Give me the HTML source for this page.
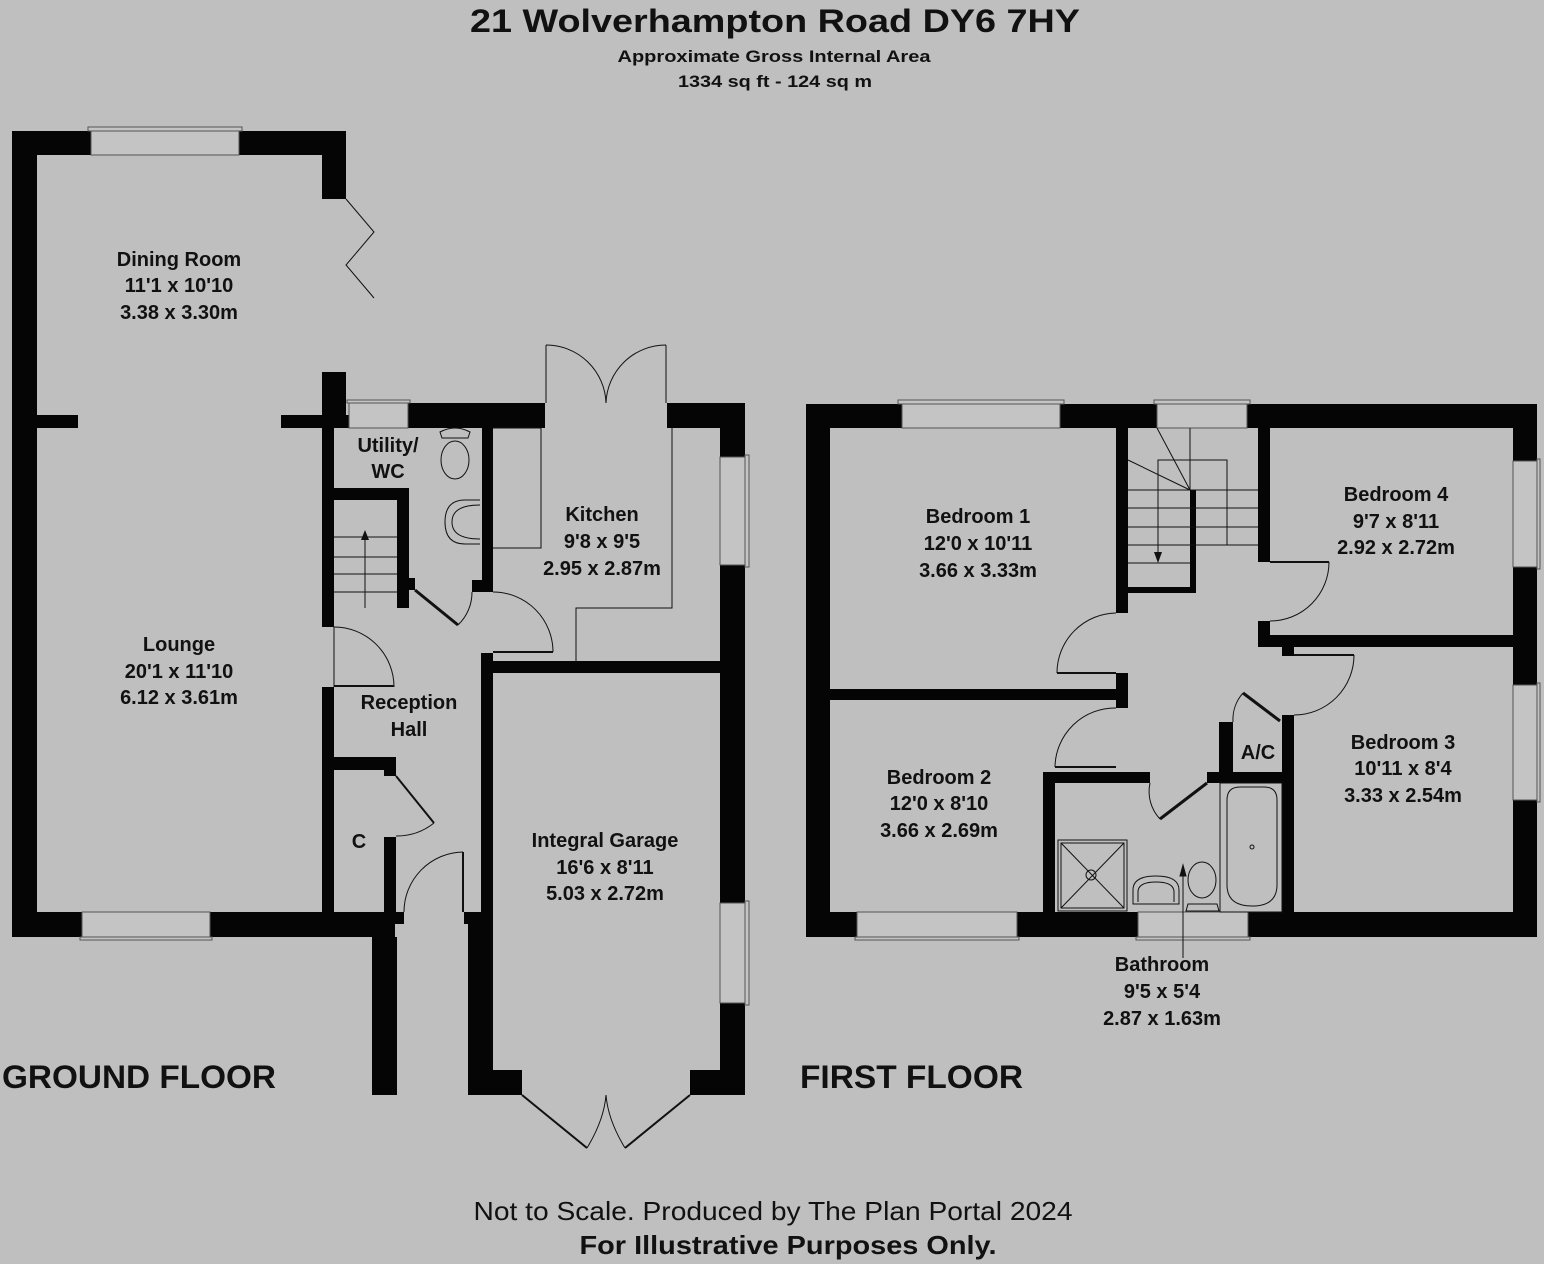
<!DOCTYPE html>
<html><head><meta charset="utf-8"><style>
html,body{margin:0;padding:0;background:#bfbfbf;}
svg{display:block;}
text{font-family:"Liberation Sans",sans-serif;fill:#111;}
.b{font-weight:bold;}
.r{font-size:20px;font-weight:bold;text-anchor:middle;}
</style></head><body>
<svg width="1544" height="1264" viewBox="0 0 1544 1264" xmlns="http://www.w3.org/2000/svg">
<rect width="1544" height="1264" fill="#bfbfbf"/>
<!-- header -->
<text x="775" y="32" class="b" font-size="32" text-anchor="middle" textLength="610" lengthAdjust="spacingAndGlyphs">21 Wolverhampton Road DY6 7HY</text>
<text x="774" y="62" class="b" font-size="17" text-anchor="middle" textLength="313" lengthAdjust="spacingAndGlyphs">Approximate Gross Internal Area</text>
<text x="775" y="87" class="b" font-size="17" text-anchor="middle" textLength="194" lengthAdjust="spacingAndGlyphs">1334 sq ft - 124 sq m</text>

<g fill="#050505">
<!-- GROUND FLOOR walls -->
<rect x="12" y="131" width="25" height="806"/>
<rect x="12" y="131" width="79" height="24"/>
<rect x="239" y="131" width="107" height="24"/>
<rect x="322" y="131" width="24" height="68"/>
<rect x="37" y="415" width="41" height="13"/>
<rect x="281" y="415" width="72" height="13"/>
<rect x="322" y="372" width="24" height="56"/>
<rect x="322" y="428" width="12" height="199"/>
<rect x="408" y="403" width="137" height="25"/>
<rect x="346" y="415" width="7" height="13"/>
<rect x="482" y="428" width="11" height="164"/>
<rect x="472" y="580" width="21" height="12"/>
<rect x="334" y="488" width="75" height="12"/>
<rect x="397" y="488" width="12" height="120"/>
<rect x="408" y="578" width="7" height="12"/>
<rect x="667" y="403" width="78" height="25"/>
<rect x="720" y="403" width="25" height="54"/>
<rect x="720" y="565" width="25" height="338"/>
<rect x="720" y="1003" width="25" height="92"/>
<rect x="493" y="661" width="227" height="12"/>
<rect x="481" y="653" width="12" height="259"/>
<rect x="468" y="912" width="25" height="183"/>
<rect x="468" y="1070" width="54" height="25"/>
<rect x="690" y="1070" width="55" height="25"/>
<rect x="464" y="912" width="18" height="12"/>
<rect x="322" y="687" width="12" height="225"/>
<rect x="334" y="757" width="62" height="13"/>
<rect x="384" y="770" width="12" height="6"/>
<rect x="384" y="837" width="12" height="75"/>
<rect x="12" y="912" width="70" height="25"/>
<rect x="210" y="912" width="185" height="25"/>
<rect x="395" y="912" width="9" height="12"/>
<rect x="372" y="937" width="25" height="158"/>
<!-- FIRST FLOOR walls -->
<rect x="806" y="404" width="24" height="533"/>
<rect x="806" y="404" width="96" height="24"/>
<rect x="1060" y="404" width="97" height="24"/>
<rect x="1247" y="404" width="290" height="24"/>
<rect x="1513" y="404" width="24" height="57"/>
<rect x="1513" y="567" width="24" height="118"/>
<rect x="1513" y="800" width="24" height="137"/>
<rect x="806" y="912" width="51" height="25"/>
<rect x="1017" y="912" width="121" height="25"/>
<rect x="1248" y="912" width="289" height="25"/>
<rect x="1116" y="428" width="12" height="185"/>
<rect x="1116" y="673" width="12" height="35"/>
<rect x="829" y="689" width="287" height="11"/>
<rect x="1190" y="490" width="6" height="103"/>
<rect x="1128" y="587" width="68" height="6"/>
<rect x="1258" y="428" width="12" height="134"/>
<rect x="1258" y="621" width="12" height="26"/>
<rect x="1258" y="635" width="255" height="12"/>
<rect x="1282" y="647" width="12" height="9"/>
<rect x="1282" y="715" width="12" height="197"/>
<rect x="1043" y="772" width="12" height="140"/>
<rect x="1043" y="772" width="107" height="11"/>
<rect x="1207" y="772" width="86" height="11"/>
<rect x="1219" y="722" width="14" height="50"/>
</g>

<!-- windows -->
<g fill="#c4c4c4" stroke="#555" stroke-width="1">
<rect x="91" y="131" width="148" height="24"/><rect x="88" y="127" width="154" height="4"/>
<rect x="349" y="403" width="59" height="25"/><rect x="347" y="400" width="63" height="3"/>
<rect x="720" y="457" width="25" height="108"/><rect x="745" y="455" width="4" height="112"/>
<rect x="720" y="903" width="25" height="100"/><rect x="745" y="901" width="4" height="104"/>
<rect x="82" y="912" width="128" height="25"/><rect x="80" y="937" width="132" height="3"/>
<rect x="902" y="404" width="158" height="24"/><rect x="898" y="400" width="166" height="4"/>
<rect x="1157" y="404" width="90" height="24"/><rect x="1154" y="400" width="96" height="4"/>
<rect x="1513" y="461" width="24" height="106"/><rect x="1537" y="459" width="3" height="110"/>
<rect x="1513" y="685" width="24" height="115"/><rect x="1537" y="683" width="3" height="119"/>
<rect x="857" y="912" width="160" height="25"/><rect x="855" y="937" width="164" height="3"/>
<rect x="1138" y="912" width="110" height="25"/><rect x="1136" y="937" width="114" height="3"/>
</g>

<!-- thin lines, doors, fixtures -->
<g fill="none" stroke="#111" stroke-width="1">
<polyline points="346,199 374,232 346,265 374,298"/>
<!-- kitchen french doors -->
<line x1="546" y1="345" x2="546" y2="403"/><line x1="666" y1="345" x2="666" y2="403"/>
<path d="M546,345 A60,60 0 0 1 606,403"/><path d="M666,345 A60,60 0 0 0 606,403"/>
<!-- kitchen counters -->
<polyline points="493,428 541,428 541,548 493,548"/>
<polyline points="672,428 672,608 576,608 576,661"/>
<!-- utility door -->
<line x1="415" y1="590" x2="458" y2="625" stroke-width="3"/>
<path d="M458,625 A45,45 0 0 0 472,592"/>
<!-- kitchen door -->
<line x1="493" y1="652" x2="553" y2="652" stroke-width="2"/>
<path d="M493,592 A60,60 0 0 1 553,652"/>
<!-- lounge door -->
<line x1="334" y1="627" x2="334" y2="687"/>
<path d="M334,627 A60,60 0 0 1 394,687"/>
<line x1="334" y1="686" x2="394" y2="686" stroke-width="2"/>
<!-- cupboard door -->
<line x1="396" y1="776" x2="434" y2="823" stroke-width="2"/>
<path d="M434,823 A60,60 0 0 1 396,836"/>
<!-- front door -->
<line x1="463" y1="852" x2="463" y2="912" stroke-width="2"/>
<path d="M463,852 A60,60 0 0 0 404,912"/>
<!-- garage doors -->
<line x1="522" y1="1095" x2="587" y2="1148" stroke-width="2"/>
<line x1="690" y1="1095" x2="625" y2="1148" stroke-width="2"/>
<path d="M587,1148 Q604,1120 606,1095"/><path d="M625,1148 Q608,1120 606,1095"/>
<!-- ground stairs -->
<g stroke-width="1">
<line x1="334" y1="537" x2="397" y2="537"/><line x1="334" y1="557" x2="397" y2="557"/>
<line x1="334" y1="574" x2="397" y2="574"/><line x1="334" y1="592" x2="397" y2="592"/>
<line x1="365" y1="608" x2="365" y2="540"/>
</g>
<!-- WC toilet -->
<ellipse cx="455" cy="460" rx="14" ry="19"/><path d="M440,432 Q455,424 470,432 L468,438 L442,438 Z"/>
<path d="M480,500 L465,500 Q445,500 445,522 Q445,544 465,544 L480,544"/>
<path d="M480,505 Q452,505 452,522 Q452,539 480,539"/>

<!-- first floor stairs -->
<line x1="1128" y1="490" x2="1258" y2="490"/><line x1="1128" y1="508" x2="1258" y2="508"/>
<line x1="1128" y1="527" x2="1258" y2="527"/><line x1="1128" y1="545" x2="1258" y2="545"/>
<line x1="1128" y1="563" x2="1190" y2="563"/>
<rect x="1158" y="460" width="69" height="85"/>
<line x1="1190" y1="428" x2="1190" y2="490"/>
<line x1="1157" y1="428" x2="1190" y2="490"/><line x1="1128" y1="460" x2="1190" y2="490"/>
<line x1="1158" y1="460" x2="1158" y2="560"/>
<!-- FF doors -->
<line x1="1057" y1="673" x2="1116" y2="673" stroke-width="2"/><path d="M1116,613 A60,60 0 0 0 1057,673"/>
<line x1="1055" y1="767" x2="1116" y2="767" stroke-width="2"/><path d="M1116,708 A60,60 0 0 0 1055,767"/>
<line x1="1270" y1="562" x2="1329" y2="562" stroke-width="2"/><path d="M1329,562 A59,59 0 0 1 1270,621"/>
<line x1="1294" y1="655" x2="1354" y2="655" stroke-width="2"/><path d="M1354,655 A60,60 0 0 1 1294,715"/>
<line x1="1243" y1="693" x2="1280" y2="721" stroke-width="3"/><path d="M1243,693 A40,40 0 0 0 1233,722"/>
<line x1="1207" y1="783" x2="1160" y2="819" stroke-width="3"/><path d="M1150,783 A40,40 0 0 0 1160,819"/>
<!-- shower -->
<rect x="1058" y="840" width="69" height="71"/><rect x="1061" y="843" width="63" height="65"/>
<line x1="1061" y1="843" x2="1124" y2="908"/><line x1="1124" y1="843" x2="1061" y2="908"/>
<circle cx="1091" cy="875" r="5"/>
<!-- bath -->
<rect x="1220" y="783" width="62" height="129"/>
<path d="M1227,800 Q1227,787 1240,787 L1264,787 Q1277,787 1277,800 L1277,885 Q1277,906 1252,906 Q1227,906 1227,885 Z"/>
<circle cx="1252" cy="847" r="2"/>
<!-- basin -->
<path d="M1133,904 L1133,890 Q1133,876 1156,876 Q1179,876 1179,890 L1179,904 Z"/>
<path d="M1138,902 L1138,892 Q1138,882 1156,882 Q1174,882 1174,892 L1174,902"/>
<!-- toilet -->
<ellipse cx="1202" cy="880" rx="14" ry="18"/><path d="M1188,904 L1217,904 L1219,911 L1186,911 Z"/>
<line x1="1183" y1="869" x2="1183" y2="958"/>
<path d="M1180,876 L1183,865 L1186,876 Z" fill="#111"/>
</g>
<path d="M361,540 L365,530 L369,540 Z" fill="#111"/>
<path d="M1154,552 L1158,563 L1162,552 Z" fill="#111"/>

<!-- room labels -->
<text class="r" x="179" y="266">Dining Room</text>
<text class="r" x="179" y="292">11'1 x 10'10</text>
<text class="r" x="179" y="319">3.38 x 3.30m</text>
<text class="r" x="179" y="651">Lounge</text>
<text class="r" x="179" y="678">20'1 x 11'10</text>
<text class="r" x="179" y="704">6.12 x 3.61m</text>
<text class="r" x="388" y="452">Utility/</text>
<text class="r" x="388" y="478">WC</text>
<text class="r" x="602" y="521">Kitchen</text>
<text class="r" x="602" y="548">9'8 x 9'5</text>
<text class="r" x="602" y="575">2.95 x 2.87m</text>
<text class="r" x="409" y="709">Reception</text>
<text class="r" x="409" y="736">Hall</text>
<text class="r" x="359" y="848">C</text>
<text class="r" x="605" y="847">Integral Garage</text>
<text class="r" x="605" y="874">16'6 x 8'11</text>
<text class="r" x="605" y="900">5.03 x 2.72m</text>
<text class="r" x="978" y="523">Bedroom 1</text>
<text class="r" x="978" y="550">12'0 x 10'11</text>
<text class="r" x="978" y="577">3.66 x 3.33m</text>
<text class="r" x="1396" y="501">Bedroom 4</text>
<text class="r" x="1396" y="528">9'7 x 8'11</text>
<text class="r" x="1396" y="554">2.92 x 2.72m</text>
<text class="r" x="939" y="784">Bedroom 2</text>
<text class="r" x="939" y="810">12'0 x 8'10</text>
<text class="r" x="939" y="837">3.66 x 2.69m</text>
<text class="r" x="1258" y="759">A/C</text>
<text class="r" x="1403" y="749">Bedroom 3</text>
<text class="r" x="1403" y="775">10'11 x 8'4</text>
<text class="r" x="1403" y="802">3.33 x 2.54m</text>
<text class="r" x="1162" y="971">Bathroom</text>
<text class="r" x="1162" y="998">9'5 x 5'4</text>
<text class="r" x="1162" y="1025">2.87 x 1.63m</text>

<text x="2" y="1088" class="b" font-size="32" textLength="274" lengthAdjust="spacingAndGlyphs">GROUND FLOOR</text>
<text x="800" y="1088" class="b" font-size="32" textLength="223" lengthAdjust="spacingAndGlyphs">FIRST FLOOR</text>
<text x="773" y="1220" font-size="26" text-anchor="middle" textLength="599" lengthAdjust="spacingAndGlyphs">Not to Scale. Produced by The Plan Portal 2024</text>
<text x="788" y="1254" class="b" font-size="26" text-anchor="middle" textLength="417" lengthAdjust="spacingAndGlyphs">For Illustrative Purposes Only.</text>
</svg>
</body></html>
